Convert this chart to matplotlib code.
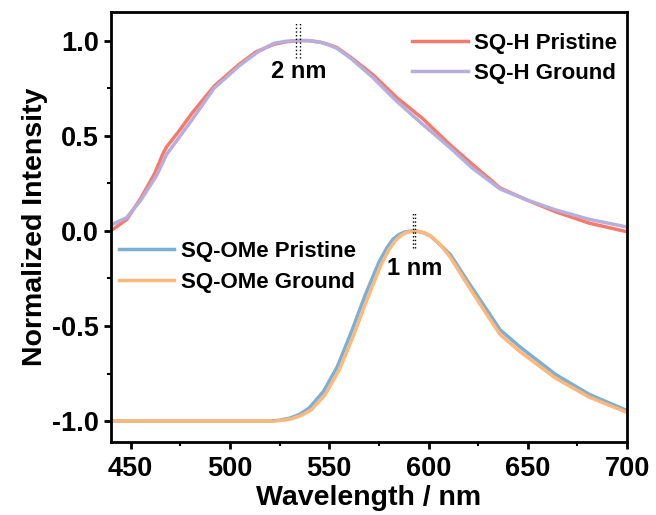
import matplotlib
matplotlib.use("Agg")
import matplotlib.pyplot as plt
from matplotlib.ticker import MultipleLocator

plt.rcParams['font.family'] = ['Liberation Sans', 'DejaVu Sans']
plt.rcParams['font.weight'] = 'bold'
plt.rcParams['axes.unicode_minus'] = False

# SQ-H emission spectra
wl_h_pristine = [440, 448, 455, 462, 466, 468, 474, 481, 492, 504, 513, 522, 528, 534, 540, 546,
                 550, 554, 561, 572, 584, 597, 611, 622, 636, 650, 664, 681, 700]
int_h_pristine = [0.0, 0.06, 0.17, 0.30, 0.40, 0.44, 0.52, 0.62, 0.76, 0.87, 0.94, 0.98, 0.993, 1.0, 0.999, 0.99,
                  0.978, 0.962, 0.91, 0.82, 0.70, 0.59, 0.45, 0.35, 0.225, 0.16, 0.10, 0.04, -0.005]
wl_h_ground = [440, 448, 455, 463, 468, 475, 482, 492, 505, 514, 522, 528, 534, 540, 546,
               550, 554, 561, 572, 584, 597, 611, 622, 636, 650, 664, 681, 700]
int_h_ground = [0.03, 0.07, 0.16, 0.29, 0.40, 0.50, 0.60, 0.75, 0.87, 0.94, 0.985, 0.996, 1.0, 1.0, 0.99,
                0.976, 0.958, 0.905, 0.805, 0.68, 0.56, 0.435, 0.33, 0.22, 0.16, 0.11, 0.06, 0.02]

# SQ-OMe emission spectra (offset by -1)
wl_ome_pristine = [440, 520, 525, 530, 535, 540, 547, 554, 561, 568, 575, 579, 582, 585, 588, 592, 595, 598,
                   601, 605, 611, 620, 629, 636, 646, 664, 681, 700]
int_ome_pristine = [-1, -1, -0.995, -0.985, -0.965, -0.93, -0.845, -0.715, -0.535, -0.34, -0.165, -0.09, -0.045, -0.02,
                    -0.006, 0.0, -0.004, -0.012, -0.028, -0.065, -0.125, -0.27, -0.41, -0.52, -0.61, -0.755, -0.86, -0.945]
wl_ome_ground = [440, 522, 527, 531, 536, 541, 548, 555, 562, 569, 576, 580, 583, 586, 589, 593, 596, 599,
                 602, 606, 611, 620, 629, 636, 646, 664, 681, 700]
int_ome_ground = [-1, -1, -0.995, -0.988, -0.97, -0.94, -0.86, -0.73, -0.555, -0.36, -0.18, -0.1, -0.055, -0.025,
                  -0.008, 0.0, -0.005, -0.015, -0.035, -0.075, -0.14, -0.29, -0.435, -0.545, -0.635, -0.775, -0.875, -0.955]

peak_h = [533, 535]
peak_ome = [592, 593]

fig = plt.figure(figsize=(6.56, 5.15), dpi=100)
ax = fig.add_axes([0.169, 0.1417, 0.787, 0.835])

lh1, = ax.plot(wl_h_pristine, int_h_pristine, color='#F47A6B', lw=2.5, label='SQ-H Pristine')
lh2, = ax.plot(wl_h_ground, int_h_ground, color='#B8AEDC', lw=2.5, label='SQ-H Ground')
lo1, = ax.plot(wl_ome_pristine, int_ome_pristine, color='#7BAFD6', lw=2.5, label='SQ-OMe Pristine')
lo2, = ax.plot(wl_ome_ground, int_ome_ground, color='#FFB878', lw=2.5, label='SQ-OMe Ground')

for p in peak_h:
    ax.plot([p, p], [0.91, 1.09], color='black', ls=':', lw=1)
for p in peak_ome:
    ax.plot([p, p], [-0.09, 0.1], color='black', ls=':', lw=1)

ax.text(534.5, 0.836, '2 nm', ha='center', va='center', fontsize=17, fontweight='bold')
ax.text(593, -0.196, '1 nm', ha='center', va='center', fontsize=17, fontweight='bold')

leg1 = ax.legend(handles=[lh1, lh2], loc='upper right', bbox_to_anchor=(0.981, 0.952), frameon=False,
                 fontsize=16, handlelength=2.5, handletextpad=0.3, labelspacing=0.4,
                 borderaxespad=0, borderpad=0)
ax.add_artist(leg1)
ax.legend(handles=[lo1, lo2], loc='upper left', bbox_to_anchor=(0.015, 0.468), frameon=False,
          fontsize=16, handlelength=2.5, handletextpad=0.3, labelspacing=0.45,
          borderaxespad=0, borderpad=0)

ax.set_xlim(440, 700)
ax.set_ylim(-1.11, 1.15)
ax.xaxis.set_major_locator(MultipleLocator(50))
ax.xaxis.set_minor_locator(MultipleLocator(25))
ax.yaxis.set_major_locator(MultipleLocator(0.5))
ax.yaxis.set_minor_locator(MultipleLocator(0.25))
ax.tick_params(which='major', direction='out', length=5, width=2, labelsize=19.5)
ax.tick_params(axis='x', which='major', pad=5)
ax.tick_params(which='minor', direction='out', length=3, width=1.5)
for s in ax.spines.values():
    s.set_linewidth(2)

ax.set_xlabel('Wavelength / nm', fontsize=20.5, fontweight='bold', labelpad=2)
ax.set_ylabel('Normalized Intensity', fontsize=20.5, fontweight='bold', labelpad=3)

fig.savefig('out.png', dpi=100)
